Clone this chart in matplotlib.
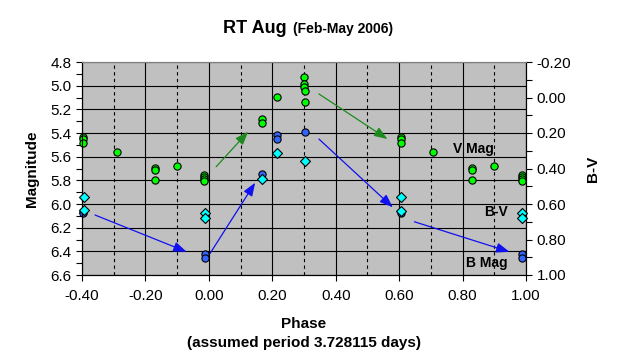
import matplotlib.pyplot as plt
from matplotlib.ticker import MultipleLocator

plt.rcParams['font.family'] = ['Liberation Sans', 'DejaVu Sans']

# V magnitude (green)
v_phase = [-0.396, -0.396, -0.396, -0.291, -0.170, -0.170, -0.170, -0.101,
           -0.015, -0.015, -0.015, -0.015, 0.167, 0.167, 0.214,
           0.300, 0.300, 0.300, 0.302, 0.302,
           0.606, 0.607, 0.606, 0.707, 0.830, 0.830, 0.831, 0.899,
           0.987, 0.987, 0.987, 0.987]
v_mag = [5.431, 5.453, 5.487, 5.558, 5.699, 5.713, 5.797, 5.677,
         5.755, 5.770, 5.792, 5.803, 5.282, 5.313, 5.093,
         4.924, 4.986, 5.009, 5.045, 5.136,
         5.431, 5.453, 5.487, 5.558, 5.699, 5.713, 5.797, 5.677,
         5.755, 5.770, 5.792, 5.803]

# B magnitude (blue)
b_phase = [-0.396, -0.396, -0.012, -0.012, 0.167, 0.214, 0.214, 0.302,
           0.606, 0.987, 0.987]
b_mag = [6.065, 6.080, 6.425, 6.460, 5.747, 5.417, 5.451, 5.394,
         6.079, 6.425, 6.460]

# B-V colour index (cyan, right axis)
bv_phase = [-0.394, -0.394, -0.012, -0.012, 0.169, 0.215, 0.303,
            0.607, 0.607, 0.987, 0.987]
bv = [0.559, 0.634, 0.652, 0.681, 0.459, 0.314, 0.358,
      0.559, 0.638, 0.652, 0.681]

# trend arrows: (x0, y0, x1, y1) in phase / magnitude
v_arrows = [(0.023, 5.685, 0.124, 5.389), (0.347, 5.070, 0.563, 5.451)]
b_arrows = [(-0.359, 6.093, -0.070, 6.404), (0.004, 6.417, 0.146, 5.820),
            (0.347, 5.451, 0.580, 6.028), (0.648, 6.150, 0.948, 6.404)]

fig = plt.figure(figsize=(6.19, 3.6), dpi=100)
ax = fig.add_axes([82/619, 1-275/360, 444/619, 213/360])
ax.set_facecolor('#C0C0C0')

ax.set_xlim(-0.4, 1.0)
ax.set_ylim(6.6, 4.8)
ax.xaxis.set_major_locator(MultipleLocator(0.2))
ax.yaxis.set_major_locator(MultipleLocator(0.2))
ax.yaxis.set_minor_locator(MultipleLocator(0.1))
ax.xaxis.set_major_formatter(lambda v, p: f"{v:.2f}")
ax.yaxis.set_major_formatter(lambda v, p: f"{v:.1f}")

for x in [-0.4 + 0.2 * i for i in range(8)]:
    ax.axvline(x, color='black', lw=0.8, zorder=1)
for x in [-0.3 + 0.2 * i for i in range(7)]:
    ax.axvline(x, color='black', lw=0.8, ls=(0, (3, 3)), zorder=1)
for y in [4.8 + 0.2 * i for i in range(10)]:
    ax.axhline(y, color='black', lw=0.8, zorder=1)

for x0, y0, x1, y1 in v_arrows:
    ax.annotate('', xy=(x1, y1), xytext=(x0, y0),
                arrowprops=dict(arrowstyle='-|>,head_length=0.8,head_width=0.3',
                                color='#1E8A1E', lw=0.9, mutation_scale=10,
                                shrinkA=0, shrinkB=0), zorder=2)
for x0, y0, x1, y1 in b_arrows:
    ax.annotate('', xy=(x1, y1), xytext=(x0, y0),
                arrowprops=dict(arrowstyle='-|>,head_length=0.8,head_width=0.3',
                                color='#1010F0', lw=0.9, mutation_scale=10,
                                shrinkA=0, shrinkB=0), zorder=2)

ax.plot(v_phase, v_mag, 'o', ms=5.2, mfc='#00FF00', mec='black', mew=0.8,
        ls='none', zorder=3, clip_on=False)
ax.plot(b_phase, b_mag, 'o', ms=5.2, mfc='#3366FF', mec='black', mew=0.8,
        ls='none', zorder=3, clip_on=False)

ax2 = ax.twinx()
ax2.set_ylim(1.0, -0.2)
ax2.yaxis.set_major_locator(MultipleLocator(0.2))
ax2.yaxis.set_minor_locator(MultipleLocator(0.1))
ax2.yaxis.set_major_formatter(lambda v, p: f"{v:.2f}")
ax2.plot(bv_phase, bv, 'D', ms=4.8, mfc='#00FFFF', mec='black', mew=0.8,
         ls='none', zorder=3, clip_on=False)

for a in (ax, ax2):
    a.spines['top'].set_color('#808080')
    a.spines['left'].set_color('black')
    a.spines['right'].set_color('black')
    a.spines['bottom'].set_color('black')
    a.tick_params(which='both', direction='out', length=4, width=0.8,
                  labelsize=11, colors='black')

ax.tick_params(axis='x', pad=6)
ax.set_ylabel('Magnitude', fontsize=11, fontweight='bold', labelpad=8)
ax2.set_ylabel('B-V', fontsize=11, fontweight='bold', labelpad=11)
ax.set_xlabel('Phase\n(assumed period 3.728115 days)', fontsize=11,
              fontweight='bold', labelpad=10, linespacing=1.5)

ax.text(0.770, 5.535, 'V Mag', fontsize=10, fontweight='bold', va='center',
        ha='left', zorder=4)
ax.text(0.943, 6.07, 'B-V', fontsize=10, fontweight='bold', va='center',
        ha='right', zorder=4)
ax.text(0.943, 6.497, 'B Mag', fontsize=10, fontweight='bold', va='center',
        ha='right', zorder=4)

fig.text(287/619, 1 - 33/360, 'RT Aug', fontsize=13, fontweight='bold',
         ha='right', va='baseline')
fig.text(293/619, 1 - 33/360, '(Feb-May 2006)', fontsize=10,
         fontweight='bold', ha='left', va='baseline')

fig.savefig('out.png', dpi=100)
